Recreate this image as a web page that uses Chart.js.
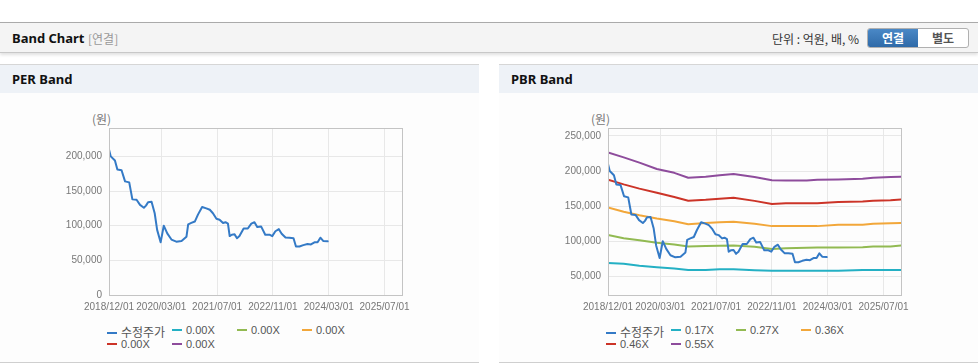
<!DOCTYPE html>
<html>
<head>
<meta charset="utf-8">
<script src="https://cdn.jsdelivr.net/npm/chart.js@4.4.1/dist/chart.umd.min.js"></script>
<style>
body { margin:0; width:978px; height:364px; overflow:hidden; background:#fff; font-family:"Liberation Sans", Arial, sans-serif; position:relative; }
.hdr { position:absolute; left:0; top:22px; width:978px; height:29px; background:#f4f4f4; border-top:1px solid #aaa; border-bottom:1px solid #c8c8c8; box-shadow:0 2px 3px rgba(0,0,0,0.12); }
.hdr .t { position:absolute; left:12px; top:6px; font:bold 13px "Noto Sans", "Noto Sans CJK KR", sans-serif; color:#111; }
.hdr .s { position:absolute; left:88px; top:7px; font:12px "Noto Sans CJK KR", sans-serif; color:#999; }
.hdr .u { position:absolute; left:772px; top:7px; font:12px "Noto Sans CJK KR", sans-serif; color:#333; }
.btns { position:absolute; left:867px; top:5px; width:100px; height:18px; border:1px solid #b0b0b0; border-radius:3px; background:#fff; overflow:hidden; }
.btns div { float:left; width:50px; height:18px; line-height:18px; text-align:center; font:bold 12px "Noto Sans CJK KR", sans-serif; color:#555; }
.btns .on { background:linear-gradient(#4a88c6, #2f6aa8); color:#fff; }
.panel { position:absolute; top:64px; width:479px; height:297px; border-top:1px solid #d6d6d6; border-bottom:1px solid #cfcfcf; background:#fdfdfd; }
.panel .pt { height:28px; background:#eef2f7; font:bold 13px "Noto Sans", sans-serif; color:#111; padding-left:12px; line-height:28px; }
.unit { position:absolute; top:110px; font:12px "Noto Sans CJK KR", sans-serif; color:#777; }
canvas { position:absolute; }
.lg { position:absolute; width:270px; font:11px "Liberation Sans", Arial, sans-serif; color:#555; }
.lg div { float:left; width:65px; height:14px; line-height:14px; white-space:nowrap; }
.lg span { display:inline-block; width:10px; height:2px; margin-right:4px; vertical-align:middle; position:relative; top:-1px; }
.lg .k { font:12px "Noto Sans CJK KR", sans-serif; }
</style>
</head>
<body>
<div class="hdr">
  <div class="t">Band Chart</div>
  <div class="s">[연결]</div>
  <div class="u">단위 : 억원, 배, %</div>
  <div class="btns"><div class="on">연결</div><div>별도</div></div>
</div>
<div class="panel" style="left:0"><div class="pt">PER Band</div></div>
<div class="panel" style="left:499px;width:479px"><div class="pt">PBR Band</div></div>
<div class="unit" style="left:92px">(원)</div>
<div class="unit" style="left:591px">(원)</div>
<canvas id="perChart" width="400" height="220" style="left:40px;top:100px"></canvas>
<canvas id="pbrChart" width="400" height="220" style="left:539px;top:100px"></canvas>
<div class="lg" id="perLegend" style="left:107px;top:323px"></div>
<div class="lg" id="pbrLegend" style="left:606px;top:323px"></div>
<script>
// x values are months counted from 2018/12/01
tick_months = [0, 15, 31, 47, 63, 79]
tick_labels = ['2018/12/01', '2020/03/01', '2021/07/01', '2022/11/01', '2024/03/01', '2025/07/01']

price_months = [0, 0.5, 1.7, 2.4, 3.6, 4.6, 5.8, 6.7, 7.9, 8.9, 10, 10.6, 11.2, 12.2, 13.1, 13.8, 14.8, 15.7, 16.7, 17.9, 19.3, 20.8, 22.2, 22.7, 23.6, 24.6, 25.5, 26.7, 27.9, 28.9, 29.8, 30.8, 31.7, 32.7, 33.4, 34.1, 34.6, 35.2, 36, 36.7, 37.4, 38.6, 39.8, 40.8, 41.7, 42.5, 43.6, 44.8, 46, 46.8, 47.7, 48.7, 49.5, 50.6, 51.7, 52.9, 53.6, 54.6, 55.7, 56.9, 57.9, 58.9, 59.8, 60.6, 61.4, 62.7]
price_values = [210000, 200000, 194000, 181000, 180000, 164000, 162500, 138000, 137500, 130000, 126000, 129000, 134000, 134600, 118000, 94000, 76000, 100000, 89000, 80000, 77000, 78000, 84000, 102000, 104000, 106000, 116000, 127000, 125000, 123000, 118000, 110000, 108700, 104000, 105000, 103000, 85000, 87000, 87500, 82000, 85000, 96000, 96000, 103000, 105000, 98000, 99000, 87000, 87000, 85000, 92000, 95000, 88500, 83000, 82700, 82000, 70000, 70000, 72000, 73500, 73000, 76000, 76000, 82700, 78000, 77400]

band_months = [0, 4.5, 9, 14, 19, 23, 28, 32, 36, 42, 47, 51, 57, 60, 66, 73, 76, 81, 84]
band_017 = [69000, 67700, 65000, 63000, 61000, 59000, 59000, 60000, 60000, 58600, 57700, 57700, 57700, 57700, 57700, 59000, 59000, 59000, 59000]
band_027 = [109000, 104300, 101500, 97700, 95300, 92400, 93000, 93500, 94000, 92000, 89000, 90000, 90500, 91000, 91200, 91500, 92400, 92400, 94000]
band_036 = [148000, 142000, 137000, 132400, 128500, 124300, 126000, 127000, 127700, 125000, 121500, 121500, 121500, 121500, 123400, 123400, 125000, 125500, 126000]
band_046 = [187600, 181000, 175000, 169000, 163000, 157700, 159000, 160500, 162000, 157500, 153000, 154000, 154000, 154000, 156000, 156700, 157700, 158500, 159600]
band_055 = [226700, 219500, 212000, 203000, 197500, 190500, 192000, 194000, 195700, 191500, 187000, 186700, 186700, 187600, 188000, 189000, 190500, 191500, 192000]

per_labels = ['수정주가', '0.00X', '0.00X', '0.00X', '0.00X', '0.00X']
pbr_labels = ['수정주가', '0.17X', '0.27X', '0.36X', '0.46X', '0.55X']
per_ticks = [0, 50000, 100000, 150000, 200000]
pbr_ticks = [50000, 100000, 150000, 200000, 250000]

colors = ['rgb(52, 122, 198)', 'rgb(36, 176, 196)', 'rgb(146, 186, 82)', 'rgb(242, 167, 58)', 'rgb(204, 52, 40)', 'rgb(142, 76, 156)']

function pts(xs, ys){
    var out = []
    for (var i = 0; i < xs.length; i++) out.push({x: xs[i], y: ys[i]})
    return out
}

const boxPlugin = {
    id: 'box',
    afterDraw(chart){
        const a = chart.chartArea, c = chart.ctx
        c.save()
        c.strokeStyle = '#c4c4c4'
        c.lineWidth = 1
        c.strokeRect(Math.round(a.left) + 0.5, Math.round(a.top) + 0.5, Math.round(a.right - a.left), Math.round(a.bottom - a.top))
        c.restore()
    }
}

function makeChart(id, labels, bands, yMin, yMax, yTicks){
    var datasets = [{
        label: labels[0],
        data: pts(price_months, price_values),
        borderColor: colors[0],
        borderWidth: 2,
        order: 0
    }]
    for (var i = 0; i < 5; i++) {
        datasets.push({
            label: labels[i + 1],
            data: bands ? pts(band_months, bands[i]) : [],
            borderColor: colors[i + 1],
            borderWidth: 2,
            order: 1
        })
    }
    const ctx = document.getElementById(id).getContext('2d')
    return new Chart(ctx, {
        type: 'line',
        data: { datasets: datasets },
        plugins: [boxPlugin],
        options: {
            responsive: false,
            animation: false,
            layout: { padding: { left: 0, right: 38, top: 28, bottom: 5 } },
            elements: { point: { radius: 0 }, line: { tension: 0, borderCapStyle: 'round', borderJoinStyle: 'round' } },
            plugins: { legend: { display: false }, tooltip: { enabled: false } },
            scales: {
                x: {
                    type: 'linear', min: 0, max: 84,
                    afterBuildTicks: s => { s.ticks = tick_months.map(v => ({value: v})) },
                    afterFit: s => { s.height = 20 },
                    grid: { color: '#e8e8e8', drawTicks: false },
                    border: { display: false },
                    ticks: {
                        autoSkip: false, maxRotation: 0, padding: 6, color: '#777',
                        font: { family: 'Liberation Sans', size: 10 },
                        callback: v => tick_labels[tick_months.indexOf(v)]
                    }
                },
                y: {
                    min: yMin, max: yMax,
                    afterBuildTicks: s => { s.ticks = yTicks.map(v => ({value: v})) },
                    afterFit: s => { s.width = 69 },
                    grid: { color: '#e8e8e8', drawTicks: false },
                    border: { display: false },
                    ticks: {
                        padding: 7, color: '#777',
                        font: { family: 'Liberation Sans', size: 10 },
                        callback: v => v.toLocaleString('en-US')
                    }
                }
            }
        }
    })
}

function legend(id, labels){
    var html = ''
    for (var i = 0; i < labels.length; i++) {
        html += '<div><span style="background:' + colors[i] + '"></span>' + (i == 0 ? '<b class="k" style="font-weight:normal">' + labels[i] + '</b>' : labels[i]) + '</div>'
    }
    document.getElementById(id).innerHTML = html
}

makeChart('perChart', per_labels, null, 0, 241000, per_ticks)
makeChart('pbrChart', pbr_labels, [band_017, band_027, band_036, band_046, band_055], 23300, 261400, pbr_ticks)
legend('perLegend', per_labels)
legend('pbrLegend', pbr_labels)
</script>
</body>
</html>
